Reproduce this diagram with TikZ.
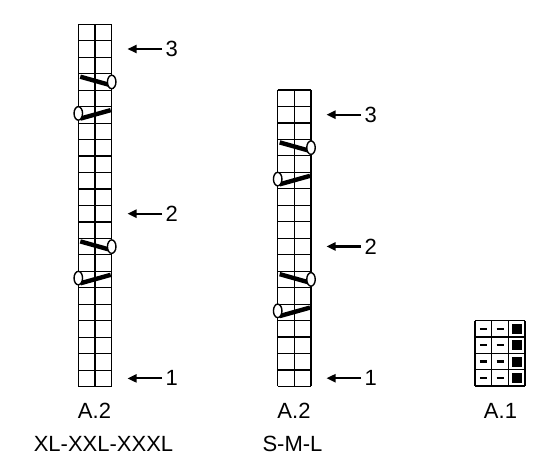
\documentclass[tikz,border=0pt]{standalone}
\usepackage{fontspec}
\setmainfont{Liberation Sans}
\usetikzlibrary{arrows.meta,shapes.geometric}
\tikzset{
  gridline/.style={line width=1.2pt, black},
  cable/.style={line width=4.4pt, black},
  oval/.style={draw=black, fill=white, line width=1.4pt, ellipse, minimum width=8.5pt, minimum height=13.5pt, inner sep=0pt},
  rowarrow/.style={line width=2.1pt, -{Triangle[length=9pt,width=8pt]}},
  lbl/.style={font=\fontsize{22}{26}\selectfont, inner sep=0pt},
}
\begin{document}
\begin{tikzpicture}[x=1pt,y=-1pt]
\useasboundingbox (0,0) rectangle (550,473);
\fill[white] (0,0) rectangle (550,473);
% ---------- left chart A.2 XL-XXL-XXXL : 22 rows ----------
\def\xa{78.3}\def\xb{111.7}\def\xm{95}\def\yt{24.3}\def\hh{16.47}
\foreach \k in {0,...,22} \draw[gridline] (\xa,\yt+\k*\hh) -- (\xb,\yt+\k*\hh);
\draw[gridline] (\xa,\yt) -- (\xa,\yt+22*\hh);
\draw[gridline] (\xm,\yt) -- (\xm,\yt+22*\hh);
\draw[gridline] (\xb,\yt) -- (\xb,\yt+22*\hh);
% cables (right oval rows 4,14 ; left oval rows 6,16)
\foreach \r in {4,14}{
  \draw[cable] (\xa+2,\yt+\r*\hh-\hh+3) -- (\xb-2,\yt+\r*\hh-\hh/2+3);
  \node[oval] at (\xb,\yt+\r*\hh-\hh/2) {};
}
\foreach \r in {6,16}{
  \draw[cable] (\xa+2,\yt+\r*\hh-4.5) -- (\xb-1,\yt+\r*\hh-\hh+3.5);
  \node[oval] at (\xa,\yt+\r*\hh-\hh/2-1.5) {};
}
% arrows
\coordinate (la3s) at (162,\yt+1.5*\hh); \coordinate (la3e) at (127.5,\yt+1.5*\hh);
\coordinate (la2s) at (162,\yt+11.5*\hh); \coordinate (la2e) at (127.5,\yt+11.5*\hh);
\coordinate (la1s) at (162,\yt+21.5*\hh); \coordinate (la1e) at (127.5,\yt+21.5*\hh);
\draw[rowarrow] (la3s) -- (la3e);
\draw[rowarrow] (la2s) -- (la2e);
\draw[rowarrow] (la1s) -- (la1e);
\node[lbl, anchor=west] (l3) at (165.5,\yt+1.5*\hh) {3};
\node[lbl, anchor=west] (l2) at (165.5,\yt+11.5*\hh) {2};
\node[lbl, anchor=west] (l1) at (165.5,\yt+21.5*\hh) {1};
\node[lbl] (lA) at (94.5,411) {A.2};
\node[lbl] (lS) at (103.5,444) {XL-XXL-XXXL};
% ---------- middle chart A.2 S-M-L : 18 rows ----------
\def\xa{277.7}\def\xb{311}\def\xm{294.3}\def\yt{90}
\foreach \k in {0,...,18} \draw[gridline] (\xa,\yt+\k*\hh) -- (\xb,\yt+\k*\hh);
\draw[gridline] (\xa,\yt) -- (\xa,\yt+18*\hh);
\draw[gridline] (\xm,\yt) -- (\xm,\yt+18*\hh);
\draw[gridline] (\xb,\yt) -- (\xb,\yt+18*\hh);
\foreach \r in {4,12}{
  \draw[cable] (\xa+2,\yt+\r*\hh-\hh+3) -- (\xb-2,\yt+\r*\hh-\hh/2+3);
  \node[oval] at (\xb,\yt+\r*\hh-\hh/2) {};
}
\foreach \r in {6,14}{
  \draw[cable] (\xa+2,\yt+\r*\hh-4.5) -- (\xb-1,\yt+\r*\hh-\hh+3.5);
  \node[oval] at (\xa,\yt+\r*\hh-\hh/2-1.5) {};
}
\coordinate (ma3s) at (361,\yt+1.5*\hh); \coordinate (ma3e) at (326.5,\yt+1.5*\hh);
\coordinate (ma2s) at (361,\yt+9.5*\hh); \coordinate (ma2e) at (326.5,\yt+9.5*\hh);
\coordinate (ma1s) at (361,\yt+17.5*\hh); \coordinate (ma1e) at (326.5,\yt+17.5*\hh);
\draw[rowarrow] (ma3s) -- (ma3e);
\draw[rowarrow] (ma2s) -- (ma2e);
\draw[rowarrow] (ma1s) -- (ma1e);
\node[lbl, anchor=west] (m3) at (364.5,\yt+1.5*\hh) {3};
\node[lbl, anchor=west] (m2) at (364.5,\yt+9.5*\hh) {2};
\node[lbl, anchor=west] (m1) at (364.5,\yt+17.5*\hh) {1};
\node[lbl] (mA) at (294,411) {A.2};
\node[lbl] (mS) at (292.5,444) {S-M-L};
% ---------- A.1 ----------
\def\xa{475}\def\yt{320.7}\def\ww{16.67}\def\rh{16.33}
\foreach \k in {0,...,4} \draw[gridline] (\xa,\yt+\k*\rh) -- (\xa+3*\ww,\yt+\k*\rh);
\foreach \k in {0,...,3} \draw[gridline] (\xa+\k*\ww,\yt) -- (\xa+\k*\ww,\yt+4*\rh);
\foreach \k in {0,...,3}{
  \draw[line width=2.5pt] (\xa+0.5*\ww-3.5,\yt+\k*\rh+0.5*\rh) -- (\xa+0.5*\ww+3.5,\yt+\k*\rh+0.5*\rh);
  \draw[line width=2.5pt] (\xa+1.5*\ww-3.5,\yt+\k*\rh+0.5*\rh) -- (\xa+1.5*\ww+3.5,\yt+\k*\rh+0.5*\rh);
  \fill[black] (\xa+2.5*\ww-5,\yt+\k*\rh+0.5*\rh-5) rectangle (\xa+2.5*\ww+5,\yt+\k*\rh+0.5*\rh+5);
}
\node[lbl] (aA) at (500.5,411) {A.1};
\end{tikzpicture}
\end{document}
